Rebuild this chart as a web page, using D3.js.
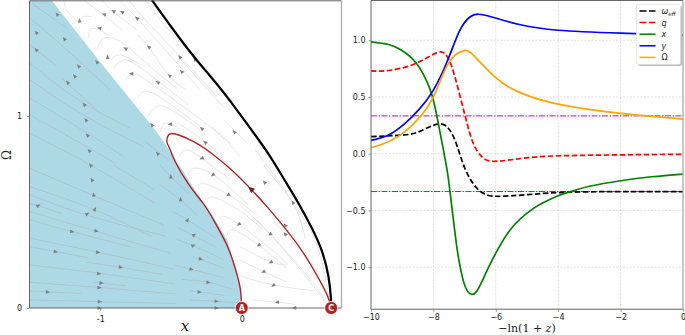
<!DOCTYPE html>
<html>
<head>
<meta charset="utf-8">
<script src="https://d3js.org/d3.v7.min.js"></script>
<style>
  html, body { margin: 0; padding: 0; background: #fff; }
  svg { display: block; }
  text { font-family: "DejaVu Sans", sans-serif; }
  .math { font-family: "DejaVu Serif", serif; }
</style>
</head>
<body>
<svg id="chart" width="685" height="335"></svg>
<script>
// phase portrait, left panel: [x, Omega]
var shadeEdge = [[-1.341,1.604],[-1,1.28],[-0.647,0.96],[-0.576,0.892],[-0.435,0.736],[-0.317,0.597],[-0.201,0.476],[-0.1,0.35],[-0.046,0.207],[-0.011,0.103],[0,0]];
var redLoop = [[0,0],[-0.011,0.103],[-0.046,0.207],[-0.105,0.328],[-0.199,0.458],[-0.27,0.542],[-0.376,0.645],[-0.47,0.762],[-0.505,0.823],[-0.529,0.866],[-0.517,0.901],[-0.47,0.906],[-0.34,0.866],[-0.199,0.797],[-0.058,0.71],[0.06,0.623],[0.178,0.528],[0.295,0.425],[0.413,0.311],[0.519,0.186],[0.602,0.07],[0.632,0]];
var blackEdge = [[-0.635,1.604],[-0.482,1.448],[-0.329,1.301],[-0.175,1.165],[-0.034,1.031],[0.095,0.901],[0.2,0.79],[0.295,0.676],[0.401,0.545],[0.496,0.415],[0.567,0.295],[0.613,0.163],[0.63,0.05],[0.632,0]];
var fixedPoints = [{ name: 'A', x: 0, y: 0 }, { name: 'C', x: 0.632, y: 0 }];

var blueStreams = [
  [[-1.483,1.587],[-1.236,1.457]],
  [[-1.495,1.509],[-1.236,1.344],[-0.93,1.135]],
  [[-1.495,1.37],[-1.318,1.266]],
  [[-1.495,1.274],[-1.153,1.083],[-0.788,0.936]],
  [[-1.271,1.196],[-1,1.014]],
  [[-1.495,1.187],[-1.118,1.005],[-0.694,0.84]],
  [[-1.495,1.092],[-1.106,0.918],[-0.835,0.788]],
  [[-1.495,1.005],[-1.094,0.84],[-0.894,0.753]],
  [[-1.495,0.91],[-1.071,0.745],[-0.611,0.545]],
  [[-0.682,0.866],[-0.517,0.771]],
  [[-1.495,0.727],[-1.059,0.589],[-0.552,0.432]],
  [[-1.495,0.632],[-1.035,0.51],[-0.635,0.372]],
  [[-1.495,0.589],[-1.094,0.484],[-0.529,0.372]],
  [[-1.495,0.545],[-1.271,0.493]],
  [[-1.495,0.502],[-1.024,0.398],[-0.505,0.285]],
  [[-1.495,0.458],[-1.2,0.398],[-0.788,0.319]],
  [[-1.495,0.363],[-1.012,0.29],[-0.482,0.203]],
  [[-1.495,0.319],[-1.083,0.262]],
  [[-1.1,0.238],[-0.859,0.212],[-0.565,0.175]],
  [[-1.495,0.224],[-1.012,0.181],[-0.47,0.125]],
  [[-1.052,0.134],[-0.816,0.116]],
  [[-1.495,0.134],[-1,0.106],[-0.465,0.073]],
  [[-1.495,0.089],[-1.134,0.076]],
  [[-1.495,0.042],[-1.005,0.033],[-0.463,0.023]],
  [[-0.906,0.745],[-0.616,0.615]],
  [[-0.581,0.644],[-0.435,0.563],[-0.317,0.484]],
  [[-0.489,0.502],[-0.383,0.458],[-0.18,0.363]],
  [[-0.451,0.418],[-0.338,0.377],[-0.18,0.316]],
  [[-0.458,0.356],[-0.343,0.325],[-0.124,0.25]],
  [[-0.348,0.267],[-0.291,0.253],[-0.124,0.207]],
  [[-0.475,0.224],[-0.357,0.201],[-0.124,0.158]],
  [[-0.423,0.149],[-0.237,0.134],[-0.058,0.095]],
  [[-0.364,0.089],[-0.3,0.083],[-0.124,0.066]],
  [[-0.364,0.042],[-0.18,0.035],[-0.006,0.026]],
  [[-0.576,0.745],[-0.501,0.684],[-0.371,0.597]]
];
var whiteStreams = [
  [[-1.248,1.604],[-1.24,1.552],[-1.153,1.491]],
  [[-1.141,1.491],[-1.118,1.517],[-1.059,1.517]],
  [[-1.083,1.41],[-1.052,1.457],[-0.93,1.417]],
  [[-1.024,1.344],[-0.977,1.404],[-0.847,1.382],[-0.647,1.257],[-0.458,1.144]],
  [[-0.93,1.283],[-0.859,1.318],[-0.717,1.266]],
  [[-0.906,1.248],[-0.835,1.292],[-0.694,1.24],[-0.376,1.057]],
  [[-0.823,1.187],[-0.776,1.219],[-0.659,1.179],[-0.317,0.996],[-0.081,0.858]],
  [[-0.741,1.092],[-0.694,1.127],[-0.564,1.092],[-0.246,0.918]],
  [[-0.659,1.005],[-0.6,1.049],[-0.494,1.031],[-0.293,0.927]],
  [[-0.576,0.918],[-0.541,0.962],[-0.458,0.944]],
  [[-0.458,0.965],[-0.258,0.866],[-0.081,0.736]],
  [[-1.118,1.604],[-0.977,1.526],[-0.847,1.448]],
  [[-0.988,1.604],[-0.906,1.543],[-0.741,1.448]],
  [[-0.864,1.604],[-0.741,1.509],[-0.529,1.335],[-0.293,1.135]],
  [[-0.8,1.604],[-0.659,1.483],[-0.435,1.309],[-0.176,1.101]],
  [[-0.741,1.422],[-0.659,1.361],[-0.517,1.213],[-0.388,1.135]],
  [[-0.682,1.604],[-0.5,1.435],[-0.317,1.3],[-0.21,1.214]],
  [[-0.447,1.309],[-0.3,1.185],[-0.129,1.048]],
  [[-0.129,0.979],[-0.045,0.92],[0.037,0.858]],
  [[-0.21,0.944],[-0.1,0.865],[-0.011,0.788]],
  [[-0.446,0.788],[-0.388,0.823],[-0.282,0.78],[-0.081,0.667]],
  [[-0.376,0.693],[-0.34,0.727],[-0.199,0.693],[0.048,0.536]],
  [[-0.305,0.623],[-0.27,0.649],[-0.093,0.589],[0.107,0.484]],
  [[-0.246,0.554],[-0.199,0.576],[-0.022,0.51],[0.154,0.406]],
  [[-0.176,0.45],[-0.128,0.476],[-0.022,0.436],[0.201,0.311],[0.324,0.229]],
  [[-0.105,0.372],[-0.058,0.406],[0.119,0.328],[0.319,0.207]],
  [[-0.011,0.319],[0.201,0.241],[0.324,0.224]],
  [[-0.011,0.25],[0.154,0.189],[0.324,0.134]],
  [[-0.011,0.167],[0.225,0.12],[0.507,0.09]],
  [[0.076,0.042],[0.249,0.03],[0.378,0.019]],
  [[0.095,0.823],[0.355,0.554],[0.449,0.363]],
  [[0.225,0.45],[0.307,0.389],[0.39,0.319]],
  [[-0.011,0.536],[0.201,0.384],[0.45,0.18],[0.58,0.05]],
  [[0.107,0.458],[0.319,0.285],[0.59,0.033]],
  [[0.154,0.745],[0.362,0.549],[0.531,0.328],[0.614,0.059]]
];
// stream arrows: x, Omega, heading in degrees
var streamArrows = [
  [-1.304,1.529,-130],[-1.452,1.434,-130],[-1.452,1.344,-130],[-1.254,1.401,-130],[-1.153,1.259,-130],
  [-1.181,1.208,-130],[-1.231,1.174,-130],[-1.113,1.059,-130],[-1.101,0.979,-130],[-1.09,0.899,-130],
  [-1.078,0.819,-130],[-1.068,0.743,-130],[-1.024,1.281,-130],[-0.595,0.804,-130],[-0.635,0.953,-130],
  [-1.059,0.667,-120],[-1.047,0.589,-100],[-1.038,0.514,-60],[-1.438,0.533,-30],[-1.092,0.49,-30],
  [-1.2,0.398,10],[-1.028,0.401,10],[-1.316,0.293,10],[-1.017,0.29,10],[-0.856,0.212,10],
  [-1.01,0.179,8],[-0.993,0.13,5],[-1.007,0.106,5],[-1.372,0.083,3],[-1.005,0.033,2],[-1.007,0,2],
  [-0.501,0.684,-90],[-0.432,0.566,-90],[-0.383,0.458,-60],[-0.338,0.38,-30],[-0.343,0.325,-20],
  [-0.291,0.255,15],[-0.357,0.201,15],[-0.237,0.134,8],[-0.3,0.083,5],[-0.18,0.035,3],[-0.18,0,3],
  [-1.146,1.496,-100],[-0.972,1.529,-160],[-0.906,1.545,-150],[-0.845,1.542,-150],[-0.741,1.509,-140],
  [-1.005,1.457,-170],[-0.821,1.351,-150],[-0.948,1.307,-100],[-0.656,1.359,-140],[-0.779,1.22,180],
  [-0.593,1.175,-150],[-0.51,1.21,-140],[-0.425,1.231,-130],[-0.437,1.307,-130],[-0.331,1.295,-130],
  [-0.505,0.957,175],[-0.282,0.934,-140],[-0.053,0.917,-130],[-0.258,0.863,-140],[-0.282,0.78,160],
  [-0.204,0.693,140],[-0.095,0.589,140],[0.161,0.654,-130],[0.362,0.549,-120],[-0.02,0.436,140],
  [0.307,0.431,-130],[0.201,0.384,150],[0.307,0.385,-130],[0.121,0.328,140],[0.206,0.238,150],
  [0.154,0.189,150],[0.223,0.118,150],[0.251,0.03,178],[0.373,0,178]
];
var redArrow = [0.067, 0.618, -138];

// right panel: [-ln(1+z), value]
var omegaEff = [[-10,0.15],[-9,0.164],[-8.5,0.19],[-8,0.25],[-7.63,0.25],[-7.31,0.12],[-6.99,-0.13],[-6.62,-0.3],[-6.35,-0.355],[-5.97,-0.375],[-4.96,-0.36],[-3.35,-0.337],[0,-0.335]];
var qValues = [[-10,0.73],[-9.44,0.733],[-8.7,0.78],[-8.16,0.853],[-7.76,0.897],[-7.52,0.839],[-7.31,0.677],[-6.99,0.34],[-6.72,0.09],[-6.45,-0.026],[-6.03,-0.067],[-4.96,-0.035],[-3.35,-0.015],[0,-0.005]];
var xValues = [[-10,0.985],[-9.44,0.962],[-9.02,0.912],[-8.54,0.795],[-8.16,0.604],[-7.95,0.413],[-7.74,0.12],[-7.57,-0.13],[-7.47,-0.33],[-7.36,-0.58],[-7.25,-0.82],[-7.14,-1.0],[-7.02,-1.14],[-6.9,-1.215],[-6.77,-1.24],[-6.62,-1.215],[-6.45,-1.13],[-6.24,-1.006],[-5.97,-0.86],[-5.49,-0.654],[-4.85,-0.493],[-4.43,-0.425],[-4,-0.37],[-3.5,-0.325],[-3,-0.287],[-2,-0.238],[-1,-0.203],[0,-0.179]];
var yValues = [[-10,0.117],[-9.44,0.164],[-8.91,0.267],[-8.48,0.384],[-8,0.56],[-7.52,0.839],[-7.15,1.088],[-6.83,1.205],[-6.56,1.229],[-6.13,1.205],[-5.28,1.141],[-4,1.088],[-2,1.062],[0,1.044]];
var omegaValues = [[-10,0.053],[-9.44,0.106],[-8.91,0.194],[-8.38,0.34],[-8,0.501],[-7.63,0.736],[-7.31,0.868],[-7.01,0.909],[-6.72,0.868],[-6.03,0.677],[-5.28,0.545],[-4,0.437],[-2,0.355],[0,0.305]];
var refLevels = [1 / 3, -1 / 3];
var leftXTicks = [-1, 0];
var leftYTicks = [0, 1];
var rightXTicks = [-10, -8, -6, -4, -2, 0];
var rightYTicks = [-1, -0.5, 0, 0.5, 1];

var svg = d3.select('#chart');
var px = d3.scaleLinear().domain([-1.5, 0.705]).range([29.5, 341.5]);
var py = d3.scaleLinear().domain([0, 1.6]).range([308, 0.8]);
var qx = d3.scaleLinear().domain([-10, 0]).range([371, 683]);
var qy = d3.scaleLinear().domain([-1.37, 1.35]).range([309.2, 0.5]);

function styleAxis(g) {
    g.selectAll('text').attr('font-size', 8).attr('fill', '#222');
    g.selectAll('.tick line').attr('stroke', '#555').attr('stroke-width', 0.6);
    g.select('.domain').remove();
}

function drawFrame(g, xs, ys) {
    var box = [
        { x1: xs[0], x2: xs[1], y1: ys[1], y2: ys[1], color: '#666', w: 1 },
        { x1: xs[0], x2: xs[1], y1: ys[0], y2: ys[0], color: '#666', w: 1 },
        { x1: xs[0], x2: xs[0], y1: ys[0], y2: ys[1], color: '#666', w: 1 },
        { x1: xs[1], x2: xs[1], y1: ys[0], y2: ys[1], color: '#aaa', w: 1.3 },
    ];
    g.selectAll('.frame').data(box).enter().append('line')
        .attr('x1', (d) => d.x1).attr('x2', (d) => d.x2)
        .attr('y1', (d) => d.y1).attr('y2', (d) => d.y2)
        .attr('stroke', (d) => d.color).attr('stroke-width', (d) => d.w);
}

// left panel
var left = svg.append('g');
var streamLine = d3.line().x((d) => px(d[0])).y((d) => py(d[1])).curve(d3.curveNatural);

left.append('path')
    .attr('d', d3.area().x((d) => px(d[0])).y1((d) => py(d[1])).y0(py(0))(
        [[-1.5, 1.6], [-1.341, 1.6]].concat(shadeEdge.slice(1))))
    .attr('fill', '#add8e6');

left.selectAll('.blue-stream').data(blueStreams).enter().append('path')
    .attr('d', streamLine).attr('fill', 'none').attr('stroke', '#a9a9a9')
    .attr('stroke-opacity', 0.5).attr('stroke-width', 0.8);
left.selectAll('.white-stream').data(whiteStreams).enter().append('path')
    .attr('d', streamLine).attr('fill', 'none').attr('stroke', '#e2e2e2')
    .attr('stroke-width', 0.9);

left.selectAll('.stream-arrow').data(streamArrows).enter().append('path')
    .attr('d', 'M2.6,0L-1.8,-1.9L-1.8,1.9Z')
    .attr('fill', '#808080')
    .attr('transform', (d) => `translate(${px(d[0])},${py(d[1])}) rotate(${d[2]})`);

left.append('path').datum(redLoop).attr('d', streamLine)
    .attr('fill', 'none').attr('stroke', '#b22222').attr('stroke-width', 1.4);
left.append('path').attr('d', 'M4,0L-2.5,-3L-2.5,3Z').attr('fill', '#7a1a1a')
    .attr('transform', `translate(${px(redArrow[0])},${py(redArrow[1])}) rotate(${redArrow[2]})`);
left.append('path').datum(blackEdge).attr('d', streamLine)
    .attr('fill', 'none').attr('stroke', '#000').attr('stroke-width', 2.2);

left.append('g').attr('transform', `translate(0,${py(0)})`)
    .call(d3.axisBottom(px).tickValues(leftXTicks).tickSize(2.5).tickPadding(6).tickFormat((d) => String(d)))
    .call(styleAxis);
left.append('g').attr('transform', `translate(${px.range()[0]},0)`)
    .call(d3.axisLeft(py).tickValues(leftYTicks).tickSize(2.5).tickPadding(5).tickFormat((d) => String(d)))
    .call(styleAxis);
drawFrame(left, px.range(), py.range());

var pts = left.selectAll('.fixed').data(fixedPoints).enter().append('g')
    .attr('transform', (d) => `translate(${px(d.x)},${py(d.y)})`);
pts.append('circle').attr('r', 6.5).attr('fill', '#b22222').attr('stroke', '#fff').attr('stroke-width', 0.8);
pts.append('text').text((d) => d.name).attr('text-anchor', 'middle').attr('y', 3)
    .attr('font-size', 8).attr('font-weight', 'bold').attr('fill', '#fff');

left.append('text').attr('class', 'math').text('x').attr('x', 185).attr('y', 331)
    .attr('text-anchor', 'middle').attr('font-size', 15).attr('font-style', 'italic').attr('fill', '#222');
left.append('text').attr('class', 'math').text('Ω')
    .attr('transform', 'translate(11,155) rotate(-90)')
    .attr('text-anchor', 'middle').attr('font-size', 12).attr('fill', '#222');

// right panel
var right = svg.append('g');
right.selectAll('.grid-x').data(rightXTicks.slice(1, -1)).enter().append('line')
    .attr('x1', (d) => qx(d)).attr('x2', (d) => qx(d))
    .attr('y1', qy.range()[0]).attr('y2', qy.range()[1])
    .attr('stroke', '#c8c8c8').attr('stroke-width', 0.6).attr('stroke-dasharray', '2,1.5');
right.selectAll('.grid-y').data(rightYTicks).enter().append('line')
    .attr('x1', qx.range()[0]).attr('x2', qx.range()[1])
    .attr('y1', (d) => qy(d)).attr('y2', (d) => qy(d))
    .attr('stroke', '#c8c8c8').attr('stroke-width', 0.6).attr('stroke-dasharray', '2,1.5');

right.selectAll('.ref').data(refLevels).enter().append('line')
    .attr('x1', qx.range()[0]).attr('x2', qx.range()[1])
    .attr('y1', (d) => qy(d)).attr('y2', (d) => qy(d))
    .attr('stroke', '#a020a0').attr('stroke-width', 1).attr('stroke-dasharray', '6,1.5,1.5,1.5');

var curveLine = d3.line().x((d) => qx(d[0])).y((d) => qy(d[1])).curve(d3.curveNatural);
var series = [
    { name: 'omegaEff', values: omegaEff, color: '#000', dash: '5.5,2.5' },
    { name: 'q', values: qValues, color: '#f00', dash: '5.5,2.5' },
    { name: 'x', values: xValues, color: 'green', dash: null },
    { name: 'y', values: yValues, color: '#00f', dash: null },
    { name: 'Omega', values: omegaValues, color: 'orange', dash: null },
];
right.selectAll('.curve').data(series).enter().append('path')
    .attr('d', (d) => curveLine(d.values))
    .attr('fill', 'none').attr('stroke', (d) => d.color).attr('stroke-width', 1.7)
    .attr('stroke-dasharray', (d) => d.dash);

right.append('g').attr('transform', `translate(0,${qy.range()[0]})`)
    .call(d3.axisBottom(qx).tickValues(rightXTicks).tickSize(2.5).tickPadding(3).tickFormat(d3.format('d')))
    .call(styleAxis);
right.append('g').attr('transform', `translate(${qx.range()[0]},0)`)
    .call(d3.axisLeft(qy).tickValues(rightYTicks).tickSize(2.5).tickPadding(3).tickFormat(d3.format('.1f')))
    .call(styleAxis);
drawFrame(right, qx.range(), qy.range());

var xTitle = right.append('text').attr('class', 'math').attr('x', 527).attr('y', 332)
    .attr('text-anchor', 'middle').attr('font-size', 11).attr('fill', '#222');
xTitle.append('tspan').text('−ln(1 + ');
xTitle.append('tspan').text('z').attr('font-style', 'italic');
xTitle.append('tspan').text(')');

// legend
var legendItems = [
    { label: 'ω', sub: 'eff', color: '#000', dash: '7,2.5' },
    { label: 'q', color: '#f00', dash: '7,2.5' },
    { label: 'x', color: 'green', dash: null },
    { label: 'y', color: '#00f', dash: null },
    { label: 'Ω', color: 'orange', dash: null },
];
var legend = right.append('g').attr('transform', 'translate(636.5,4.5)');
legend.append('rect').attr('x', 1.5).attr('y', 1.5).attr('width', 44).attr('height', 60).attr('rx', 2)
    .attr('fill', '#bbb');
legend.append('rect').attr('width', 44).attr('height', 60).attr('rx', 2)
    .attr('fill', '#fff').attr('stroke', '#ddd').attr('stroke-width', 0.7);
var rows = legend.selectAll('.row').data(legendItems).enter().append('g')
    .attr('transform', (d, i) => `translate(0,${6.5 + i * 11.6})`);
rows.append('line').attr('x1', 3).attr('x2', 19)
    .attr('stroke', (d) => d.color).attr('stroke-width', 1.5)
    .attr('stroke-dasharray', (d) => d.dash);
var labels = rows.append('text').attr('x', 25).attr('y', 3)
    .attr('font-size', 8).attr('fill', '#222');
labels.append('tspan').text((d) => d.label)
    .attr('font-style', (d) => (d.label === 'Ω' ? 'normal' : 'italic'));
labels.filter((d) => d.sub).append('tspan').text((d) => d.sub)
    .attr('font-size', 5.5).attr('dy', 1.5).attr('font-style', 'italic');
</script>
</body>
</html>
